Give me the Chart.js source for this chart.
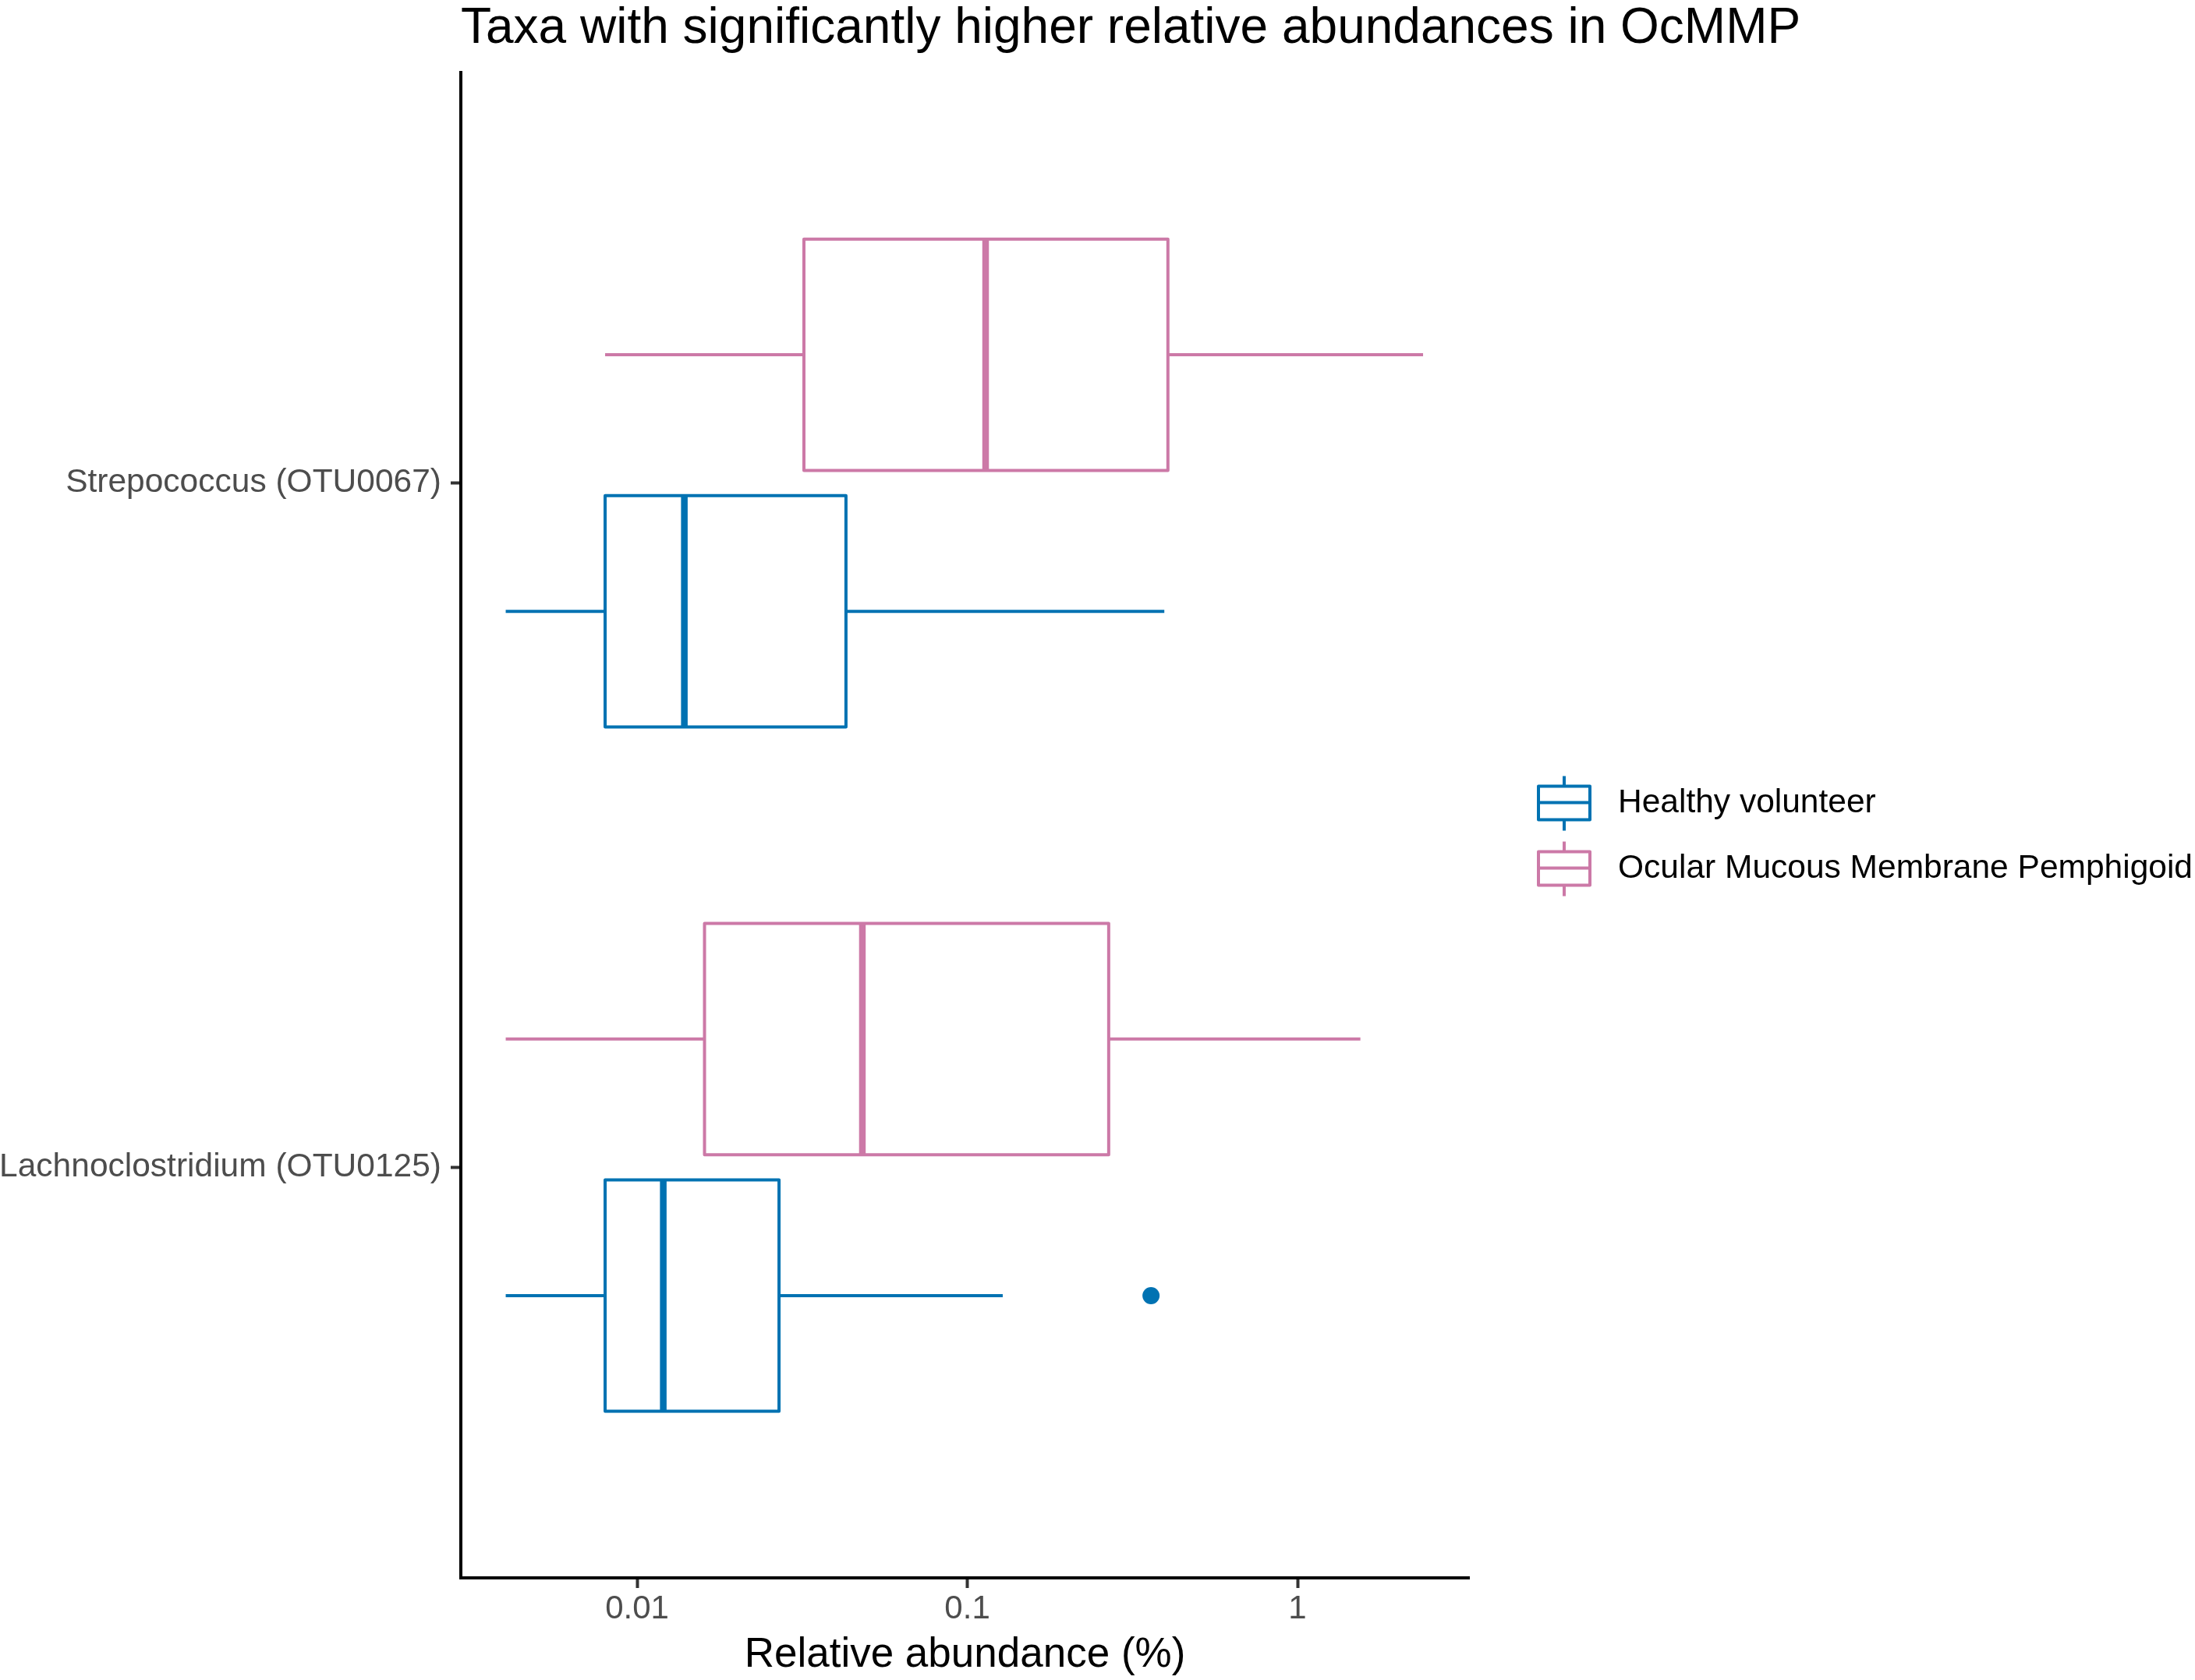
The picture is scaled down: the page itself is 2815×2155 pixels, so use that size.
<!DOCTYPE html>
<html>
<head>
<meta charset="utf-8">
<script src="https://cdn.jsdelivr.net/npm/chart.js@4"></script>
<style>
  html, body { margin: 0; padding: 0; background: #ffffff; }
  #wrap { width: 2815px; height: 2155px; }
</style>
</head>
<body>
<div id="wrap"><canvas id="c" width="2815" height="2155"></canvas></div>
<script>
// ---------------- data ----------------
const categories = ['Lachnoclostridium (OTU0125)', 'Strepococcus (OTU0067)']; // y positions 1, 2
const groups = ['Healthy volunteer', 'Ocular Mucous Membrane Pemphigoid'];
const groupColors = ['#0072B2', '#CC79A7'];

const healthyLow      = [0.0040, 0.0040];
const healthyQ1       = [0.0080, 0.0080];
const healthyMedian   = [0.0120, 0.0139];
const healthyQ3       = [0.0269, 0.0429];
const healthyHigh     = [0.128, 0.395];
const healthyOutliers = [[0.360], []];

const ommpLow      = [0.0040, 0.0080];
const ommpQ1       = [0.0160, 0.0320];
const ommpMedian   = [0.0481, 0.1136];
const ommpQ3       = [0.268, 0.405];
const ommpHigh     = [1.55, 2.40];
const ommpOutliers = [[], []];

const xTicks = [0.01, 0.1, 1];
const xTickLabels = ['0.01', '0.1', '1'];

const title = 'Taxa with significantly higher relative abundances in OcMMP';
const xTitle = 'Relative abundance (%)';

// ---------------- build datasets ----------------
const stats = [
  { low: healthyLow, q1: healthyQ1, med: healthyMedian, q3: healthyQ3, high: healthyHigh, out: healthyOutliers },
  { low: ommpLow, q1: ommpQ1, med: ommpMedian, q3: ommpQ3, high: ommpHigh, out: ommpOutliers }
];
const dodge = [-0.1875, 0.1875];
const halfBox = 0.169;
const GAP = { x: null, y: null };

const datasets = [];
stats.forEach((s, g) => {
  const color = groupColors[g];
  const whiskers = [], boxes = [], medians = [], outs = [];
  categories.forEach((cat, i) => {
    const c = (i + 1) + dodge[g];
    whiskers.push({ x: s.low[i], y: c }, { x: s.q1[i], y: c }, GAP,
                  { x: s.q3[i], y: c }, { x: s.high[i], y: c }, GAP);
    boxes.push({ x: s.q1[i], y: c - halfBox }, { x: s.q3[i], y: c - halfBox },
               { x: s.q3[i], y: c + halfBox }, { x: s.q1[i], y: c + halfBox },
               { x: s.q1[i], y: c - halfBox }, GAP);
    medians.push({ x: s.med[i], y: c - halfBox }, { x: s.med[i], y: c + halfBox }, GAP);
    s.out[i].forEach(v => outs.push({ x: v, y: c }));
  });
  const lineBase = {
    showLine: true, fill: false, pointRadius: 0, borderColor: color,
    spanGaps: false, tension: 0, borderCapStyle: 'butt', borderJoinStyle: 'round'
  };
  datasets.push(Object.assign({ label: groups[g] + ' whiskers', data: whiskers, borderWidth: 4 }, lineBase));
  datasets.push(Object.assign({ label: groups[g] + ' box', data: boxes, borderWidth: 4 }, lineBase));
  datasets.push(Object.assign({ label: groups[g] + ' median', data: medians, borderWidth: 8.5 }, lineBase));
  datasets.push({
    label: groups[g] + ' outliers', data: outs, showLine: false,
    pointRadius: 11, pointBackgroundColor: color, pointBorderWidth: 0, backgroundColor: color
  });
});

// ---------------- plot title aligned to the panel's left edge ----------------
const panelTitle = {
  id: 'panelTitle',
  afterDraw(chart) {
    const ctx = chart.ctx;
    ctx.save();
    ctx.fillStyle = '#000000';
    ctx.font = '64px "Liberation Sans", Arial, sans-serif';
    ctx.textAlign = 'left';
    ctx.textBaseline = 'alphabetic';
    ctx.fillText(title, chart.chartArea.left, chart.chartArea.top - 38);
    ctx.restore();
  }
};

// ---------------- custom legend (boxplot glyphs) ----------------
const boxLegend = {
  id: 'boxLegend',
  afterDraw(chart) {
    const ctx = chart.ctx;
    const area = chart.chartArea;
    const left = area.right + 89;
    const w = 66;
    const step = 84;
    const y0 = chart.height / 2 - step * (groups.length - 1) / 2 - 6;
    ctx.save();
    groups.forEach((name, i) => {
      const cy = y0 + i * step;
      ctx.strokeStyle = groupColors[i];
      ctx.lineWidth = 4;
      ctx.lineCap = 'butt';
      ctx.lineJoin = 'round';
      ctx.beginPath();
      ctx.moveTo(left + w / 2, cy - 34); ctx.lineTo(left + w / 2, cy - 21);
      ctx.moveTo(left + w / 2, cy + 22); ctx.lineTo(left + w / 2, cy + 36);
      ctx.stroke();
      ctx.strokeRect(left, cy - 21, w, 43);
      ctx.beginPath();
      ctx.moveTo(left, cy); ctx.lineTo(left + w, cy);
      ctx.stroke();
      ctx.fillStyle = '#000000';
      ctx.font = '42.5px "Liberation Sans", Arial, sans-serif';
      ctx.textAlign = 'left';
      ctx.textBaseline = 'middle';
      ctx.fillText(name, left + 102, cy + 1);
    });
    ctx.restore();
  }
};

Chart.defaults.font.family = '"Liberation Sans", Arial, sans-serif';

new Chart(document.getElementById('c'), {
  type: 'scatter',
  data: { datasets },
  options: {
    responsive: false,
    devicePixelRatio: 1,
    animation: false,
    events: [],
    layout: { padding: { top: 93, left: 0, bottom: 0, right: 931 } },
    plugins: {
      legend: { display: false },
      tooltip: { enabled: false },
      title: { display: false }
    },
    scales: {
      x: {
        type: 'logarithmic',
        min: 0.002925,
        max: 3.307,
        border: { display: true, color: '#000000', width: 4 },
        grid: { drawOnChartArea: false, drawTicks: true, tickLength: 13, tickWidth: 4, tickColor: '#333333' },
        ticks: {
          autoSkip: false, maxRotation: 0, minRotation: 0, padding: 2,
          color: '#4D4D4D', font: { size: 42 },
          callback: (v) => { const k = xTicks.indexOf(v); return k >= 0 ? xTickLabels[k] : ''; }
        },
        afterBuildTicks: (scale) => { scale.ticks = xTicks.map(v => ({ value: v })); },
        afterFit: (scale) => { scale.height = 131; },
        title: {
          display: true, text: xTitle, color: '#000000',
          font: { size: 53, lineHeight: 1.2 }, padding: { top: 0, bottom: 0 }
        }
      },
      y: {
        type: 'linear',
        min: 0.4,
        max: 2.6,
        border: { display: true, color: '#000000', width: 4 },
        grid: { drawOnChartArea: false, drawTicks: true, tickLength: 13, tickWidth: 4, tickColor: '#333333' },
        ticks: {
          autoSkip: false, padding: 12, color: '#4D4D4D', font: { size: 42.5 },
          callback: (v) => { const k = Math.round(v) - 1; return categories[k] !== undefined && Math.abs(v - Math.round(v)) < 1e-9 ? categories[k] : ''; }
        },
        afterBuildTicks: (scale) => { scale.ticks = categories.map((c, i) => ({ value: i + 1 })); },
        afterFit: (scale) => { scale.width = 591; }
      }
    }
  },
  plugins: [panelTitle, boxLegend]
});
</script>
</body>
</html>
